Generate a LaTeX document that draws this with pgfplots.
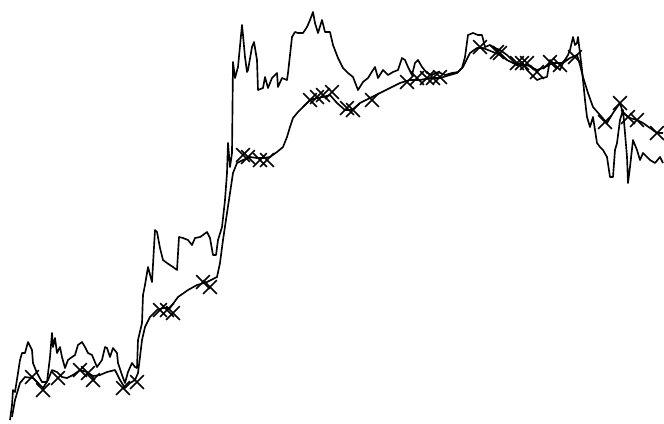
\documentclass[border=0pt]{standalone}
\usepackage{pgfplots}
\pgfplotsset{compat=1.18}
\begin{document}
\begin{tikzpicture}
\begin{axis}[
  hide axis, scale only axis,
  width=12cm, height=7.645cm,
  xmin=0, xmax=664, ymin=0, ymax=423,
  y dir=reverse, clip=false,
]
\addplot[draw=none, forget plot] coordinates {(0,0) (664,423)};
% raw series
\addplot[black, line width=0.85pt, line join=round, mark=none] coordinates {
(10,420)(12,405)(13,390)(15,392)(18,373)(20,360)(22,353)(25,353)(28,342)(32,350)(33,363)(37,373)(42,382)(47,382)(50,357)(52,333)(53,347)(55,338)(57,353)(60,347)(62,357)(65,368)(68,360)(72,357)(75,355)(78,345)(82,342)(85,347)(88,353)(92,355)(97,367)(102,360)(105,347)(107,348)(110,357)(113,348)(117,353)(118,363)(122,375)(125,383)(128,372)(132,363)(135,367)(137,368)(138,340)(142,323)(143,295)(145,285)(148,267)(152,282)(155,230)(157,232)(160,248)(163,260)(167,263)(170,265)(173,267)(177,270)(179,237)(183,238)(188,240)(192,245)(195,238)(200,237)(203,235)(207,232)(210,238)(213,255)(216,255)(218,240)(222,227)(225,200)(227,173)(228,143)(230,167)(232,153)(233,62)(235,78)(238,67)(242,25)(243,35)(245,57)(247,72)(248,70)(252,47)(254,42)(257,60)(258,90)(263,88)(265,77)(268,88)(272,78)(277,73)(278,87)(282,78)(287,80)(288,73)(292,37)(295,32)(298,33)(303,33)(307,27)(310,20)(313,12)(315,23)(318,33)(322,20)(325,32)(330,32)(333,45)(338,58)(343,68)(348,73)(353,77)(358,90)(363,82)(368,78)(373,70)(375,67)(378,78)(383,70)(388,75)(393,72)(398,70)(402,58)(405,60)(408,67)(412,75)(415,63)(418,60)(422,67)(427,73)(432,75)(438,72)(445,75)(452,73)(458,72)(462,68)(465,57)(468,35)(473,33)(478,35)(482,35)(485,47)(490,45)(495,48)(500,50)(507,55)(512,60)(517,65)(522,62)(527,70)(530,73)(537,80)(542,78)(547,77)(550,60)(555,65)(560,70)(563,63)(568,55)(570,50)(573,37)(575,45)(577,43)(578,37)(580,53)(582,70)(585,100)(587,117)(590,127)(593,117)(597,143)(600,147)(603,150)(607,157)(610,177)(613,177)(615,150)(617,143)(620,120)(623,110)(625,133)(627,157)(628,183)(630,167)(633,140)(637,150)(640,160)(643,153)(647,157)(650,160)(655,163)(660,157)(663,163)
};
% smoothed series
\addplot[black, line width=0.85pt, line join=round, mark=none] coordinates {
(12,417)(15,400)(20,383)(25,377)(33,378)(38,383)(43,388)(48,380)(52,370)(57,372)(62,377)(67,378)(73,375)(80,370)(87,372)(93,376)(100,375)(107,372)(115,370)(120,380)(125,388)(130,383)(135,380)(138,373)(140,357)(142,340)(145,327)(150,317)(157,310)(163,308)(170,308)(178,297)(188,290)(197,285)(207,282)(217,277)(220,263)(223,240)(227,213)(230,193)(233,173)(237,163)(243,160)(250,157)(257,158)(263,158)(270,157)(277,152)(283,147)(287,137)(290,127)(293,118)(298,112)(303,107)(310,100)(317,98)(323,97)(330,95)(337,103)(345,110)(352,110)(360,103)(370,98)(380,93)(390,88)(400,83)(410,80)(420,80)(430,78)(440,78)(450,75)(457,73)(463,67)(470,53)(477,48)(483,48)(493,52)(500,55)(507,60)(517,65)(527,65)(537,70)(543,68)(553,63)(563,63)(570,58)(577,55)(580,65)(583,77)(588,93)(593,107)(600,115)(607,123)(613,113)(620,103)(623,113)(630,118)(637,120)(643,123)(650,128)(657,133)(663,133)
};
% markers
\addplot[only marks, mark=x, mark size=5pt, black, mark options={line width=0.8pt}] coordinates {
(32,377)(43,390)(58,378)(80,370)(88,373)(93,380)(123,388)(137,382)(160,310)(167,310)(173,313)(203,282)(210,287)(243,155)(248,157)(260,160)(267,160)(310,100)(317,97)(323,95)(332,92)(347,108)(353,110)(372,100)(407,82)(417,78)(427,78)(433,78)(440,77)(480,47)(497,52)(500,53)(517,63)(522,63)(527,63)(537,72)(550,62)(560,65)(575,57)(605,122)(620,103)(628,117)(637,120)(657,133)
};
\end{axis}
\end{tikzpicture}
\end{document}
